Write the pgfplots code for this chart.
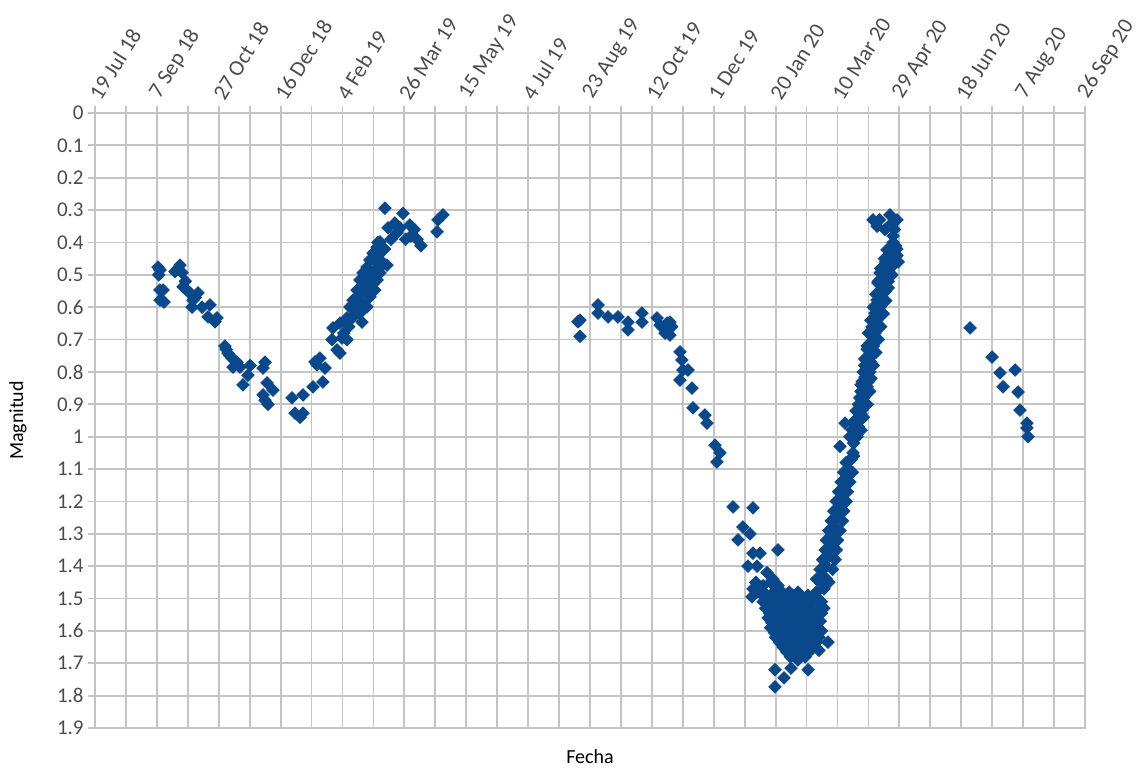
\documentclass[border=0pt]{standalone}
\usepackage{pgfplots}
\pgfplotsset{compat=1.18}
\usepackage{fontspec}
\setmainfont{Carlito}
\definecolor{markblue}{RGB}{10,72,140}
\definecolor{gridgray}{RGB}{196,196,196}
\definecolor{labgray}{RGB}{75,75,75}

\pgfplotstableread{
d m
50.9 0.476
52.5 0.485
51.5 0.50
55.0 0.547
52.5 0.547
52.5 0.578
55.8 0.584
68.7 0.470
64.6 0.490
70.3 0.493
67 0.48
71.1 0.537
76.8 0.556
79.2 0.578
83.2 0.556
78.4 0.600
86.5 0.600
92.9 0.593
91.3 0.630
97.0 0.645
98.6 0.633
73 0.52
75 0.55
81 0.57
105 0.720
107.5 0.742
110.7 0.757
114.8 0.770
111.5 0.785
117.2 0.785
125.3 0.780
123.6 0.810
119.6 0.840
137.4 0.770
135.8 0.788
139.0 0.834
143.8 0.856
135.8 0.871
139.8 0.900
137.4 0.887
106 0.73
109 0.75
159.2 0.880
168.1 0.871
161.6 0.927
168.1 0.927
165.7 0.940
176.2 0.846
184.2 0.831
179.4 0.778
181.8 0.757
177.8 0.769
185.9 0.788
191.5 0.700
195.6 0.732
198.0 0.742
192.3 0.664
199.6 0.695
203.6 0.700
198.0 0.649
203.6 0.633
206.0 0.599
208.5 0.578
211.7 0.547
215.8 0.646
214.1 0.516
216.6 0.494
219.8 0.476
222.2 0.454
224.7 0.433
227.9 0.414
230.3 0.398
224.7 0.547
227.9 0.516
230.3 0.476
219.8 0.599
214.1 0.618
208.5 0.630
222.2 0.568
226 0.547
230.3 0.494
232.7 0.463
236.0 0.470
210 0.60
212 0.58
214 0.56
216 0.54
218 0.52
220 0.50
218 0.55
221 0.53
223 0.51
225 0.49
227 0.46
229 0.44
213 0.62
217 0.59
205 0.66
201 0.68
206 0.64
234.3 0.294
248.9 0.310
242.4 0.340
236.8 0.355
246.5 0.355
254.5 0.346
239.2 0.390
255.3 0.380
260.2 0.390
263.4 0.410
281.2 0.315
277.2 0.330
276.4 0.367
228.7 0.400
226.2 0.430
244 0.37
251 0.39
258 0.36
234 0.42
391.9 0.640
390.3 0.645
391.9 0.690
406.5 0.593
406.5 0.618
414.6 0.630
422.6 0.630
430.7 0.646
430.7 0.670
442.0 0.618
442.0 0.646
454.2 0.633
456.6 0.655
462.3 0.649
464.6 0.646
460.6 0.680
464.6 0.686
459.0 0.664
463 0.67
466 0.66
472.7 0.738
474.3 0.763
475.1 0.794
479.2 0.794
472.7 0.825
482.4 0.850
483.2 0.911
492.9 0.933
494.5 0.958
501.0 1.026
505.0 1.050
502.6 1.078
515.6 1.217
531.7 1.220
523.6 1.279
529.3 1.300
519.6 1.319
551.9 1.350
531.7 1.360
537.4 1.360
527.7 1.400
535.0 1.400
543.0 1.420
547.9 1.440
531.7 1.470
530.9 1.495
539.8 1.480
568.1 1.480
553.5 1.474
534 1.45
540 1.46
546 1.45
552 1.46
586 1.45
591 1.44
537 1.48
543 1.49
549 1.48
555 1.49
561 1.48
583 1.48
589 1.47
540 1.51
546 1.50
552 1.51
558 1.50
564 1.51
570 1.50
576 1.51
581 1.50
587 1.51
542 1.53
548 1.54
554 1.53
560 1.54
566 1.53
572 1.54
578 1.53
584 1.54
589 1.53
544 1.56
550 1.57
556 1.56
562 1.57
568 1.56
574 1.57
580 1.56
586 1.57
546 1.59
552 1.60
558 1.59
564 1.60
570 1.59
576 1.60
582 1.59
587 1.60
550 1.62
556 1.63
562 1.62
568 1.63
574 1.62
580 1.63
585 1.62
556 1.65
562 1.66
568 1.65
574 1.66
580 1.65
562 1.68
568 1.69
574 1.68
540 1.49
546 1.49
552 1.49
558 1.49
564 1.49
570 1.49
576 1.49
582 1.49
543 1.515
549 1.515
555 1.515
561 1.515
567 1.515
573 1.515
579 1.515
585 1.515
545 1.545
551 1.545
557 1.545
563 1.545
569 1.545
575 1.545
581 1.545
587 1.545
547 1.575
553 1.575
559 1.575
565 1.575
571 1.575
577 1.575
583 1.575
549 1.605
555 1.605
561 1.605
567 1.605
573 1.605
579 1.605
585 1.605
553 1.635
559 1.635
565 1.635
571 1.635
577 1.635
583 1.635
559 1.665
565 1.665
571 1.665
577 1.665
549.5 1.720
556.8 1.745
549.5 1.773
562.4 1.715
576.2 1.720
585.0 1.660
592.3 1.635
583 1.44
588 1.43
593 1.45
586 1.41
591 1.40
596 1.41
588 1.38
593 1.37
598 1.38
590 1.35
595 1.34
599 1.35
591 1.32
596 1.31
600 1.32
593 1.29
598 1.28
602 1.29
595 1.26
600 1.25
604 1.26
597 1.23
602 1.22
605 1.23
599 1.20
603 1.19
607 1.20
601 1.17
605 1.16
608 1.17
603 1.14
607 1.13
610 1.14
605 1.11
609 1.10
612 1.11
607 1.08
611 1.07
613 1.06
602.0 1.030
606.1 0.958
611.7 0.979
615.8 1.000
612.5 1.050
618.2 0.948
619.8 0.918
622.2 0.896
620.6 0.865
623.9 0.846
622.2 0.816
624.7 0.785
623.9 0.763
627.9 0.741
626.3 0.711
630.3 0.680
627.9 0.661
631.9 0.640
630.3 0.618
634.4 0.599
631.9 0.578
636.8 0.547
632.7 0.525
634.4 0.494
640.0 0.494
642.4 0.463
640.0 0.423
646.5 0.445
644.9 0.400
638.4 0.360
628.7 0.330
642.4 0.315
648.1 0.330
617 0.97
619 0.93
621 0.88
623 0.87
625 0.83
626 0.80
627 0.77
628 0.75
629 0.72
630 0.70
631 0.66
633 0.63
634 0.61
635 0.57
636 0.56
637 0.53
638 0.51
637 0.48
639 0.46
641 0.44
643 0.42
645 0.38
646 0.36
644 0.34
647 0.41
648 0.44
649 0.46
641 0.52
639 0.55
633 0.58
628 0.64
626 0.68
624 0.73
622 0.78
620 0.83
619 0.86
617 0.90
616 0.92
614 0.95
613 1.02
610 1.00
621 0.80
625 0.77
629 0.68
632 0.60
635 0.52
638 0.45
643 0.50
645 0.47
632 0.35
634 0.33
630 0.65
636 0.62
619 0.98
621 0.94
624 0.90
626 0.86
627 0.82
629 0.78
631 0.74
633 0.70
635 0.66
637 0.62
639 0.58
641 0.54
644 0.50
646 0.46
648 0.42
613 0.96
615 0.92
618 0.88
619 0.84
621 0.80
622 0.76
624 0.72
625 0.68
627 0.64
629 0.60
631 0.56
633 0.52
635 0.48
707.1 0.664
724.9 0.754
731.3 0.803
743.5 0.794
733.8 0.846
745.9 0.862
747.5 0.918
753.1 0.958
753.1 0.973
754.0 1.000
}\datatable

\begin{document}
\begin{tikzpicture}
\begin{axis}[
  scale only axis,
  width=495pt, height=307.5pt,
  xmin=0, xmax=800,
  ymin=0, ymax=1.9,
  y dir=reverse,
  axis line style={gridgray, line width=0.9pt},
  grid style={gridgray, line width=0.9pt},
  xmajorgrids, xminorgrids, ymajorgrids,
  xtick={0,50,...,800},
  minor xtick={25,75,...,775},
  xticklabels={19 Jul 18,7 Sep 18,27 Oct 18,16 Dec 18,4 Feb 19,26 Mar 19,15 May 19,4 Jul 19,23 Aug 19,12 Oct 19,1 Dec 19,20 Jan 20,10 Mar 20,29 Apr 20,18 Jun 20,7 Aug 20,26 Sep 20},
  xticklabel pos=right,
  xtick pos=right,
  ytick pos=left,
  ytick={0,0.1,0.2,0.3,0.4,0.5,0.6,0.7,0.8,0.9,1,1.1,1.2,1.3,1.4,1.5,1.6,1.7,1.8,1.9},
  tick align=outside,
  major tick length=3.5pt,
  minor tick length=3.5pt,
  tick style={gridgray, line width=0.9pt},
  /pgf/number format/assume math mode=true,
  /pgf/number format/fixed,
  /pgf/number format/precision=1,
  tick label style={font=\fontsize{10.5}{12}\selectfont, text=labgray},
  xticklabel style={font=\fontsize{11}{12}\selectfont, xshift=3.5pt, rotate=58, anchor=south west, inner sep=1.5pt},
  yticklabel style={anchor=east, inner sep=2pt},
  xlabel={Fecha},
  ylabel={Magnitud},
  label style={font=\fontsize{10}{12}\selectfont, text=black!80},
  every axis x label/.style={at={([yshift=-14.5pt]axis description cs:0.5,0)}, anchor=center},
  every axis y label/.style={at={([xshift=-38.5pt]axis description cs:0,0.5)}, anchor=center, rotate=90},
  clip=false,
]
\addplot[only marks, mark=square*, mark size=2.2pt, color=markblue, mark options={rotate=45, fill=markblue, draw=markblue}] table[x=d, y=m] {\datatable};
\end{axis}
\pgfresetboundingbox
\path (-47.5pt,-19.5pt) rectangle (520.5pt,364pt);
\end{tikzpicture}
\end{document}
